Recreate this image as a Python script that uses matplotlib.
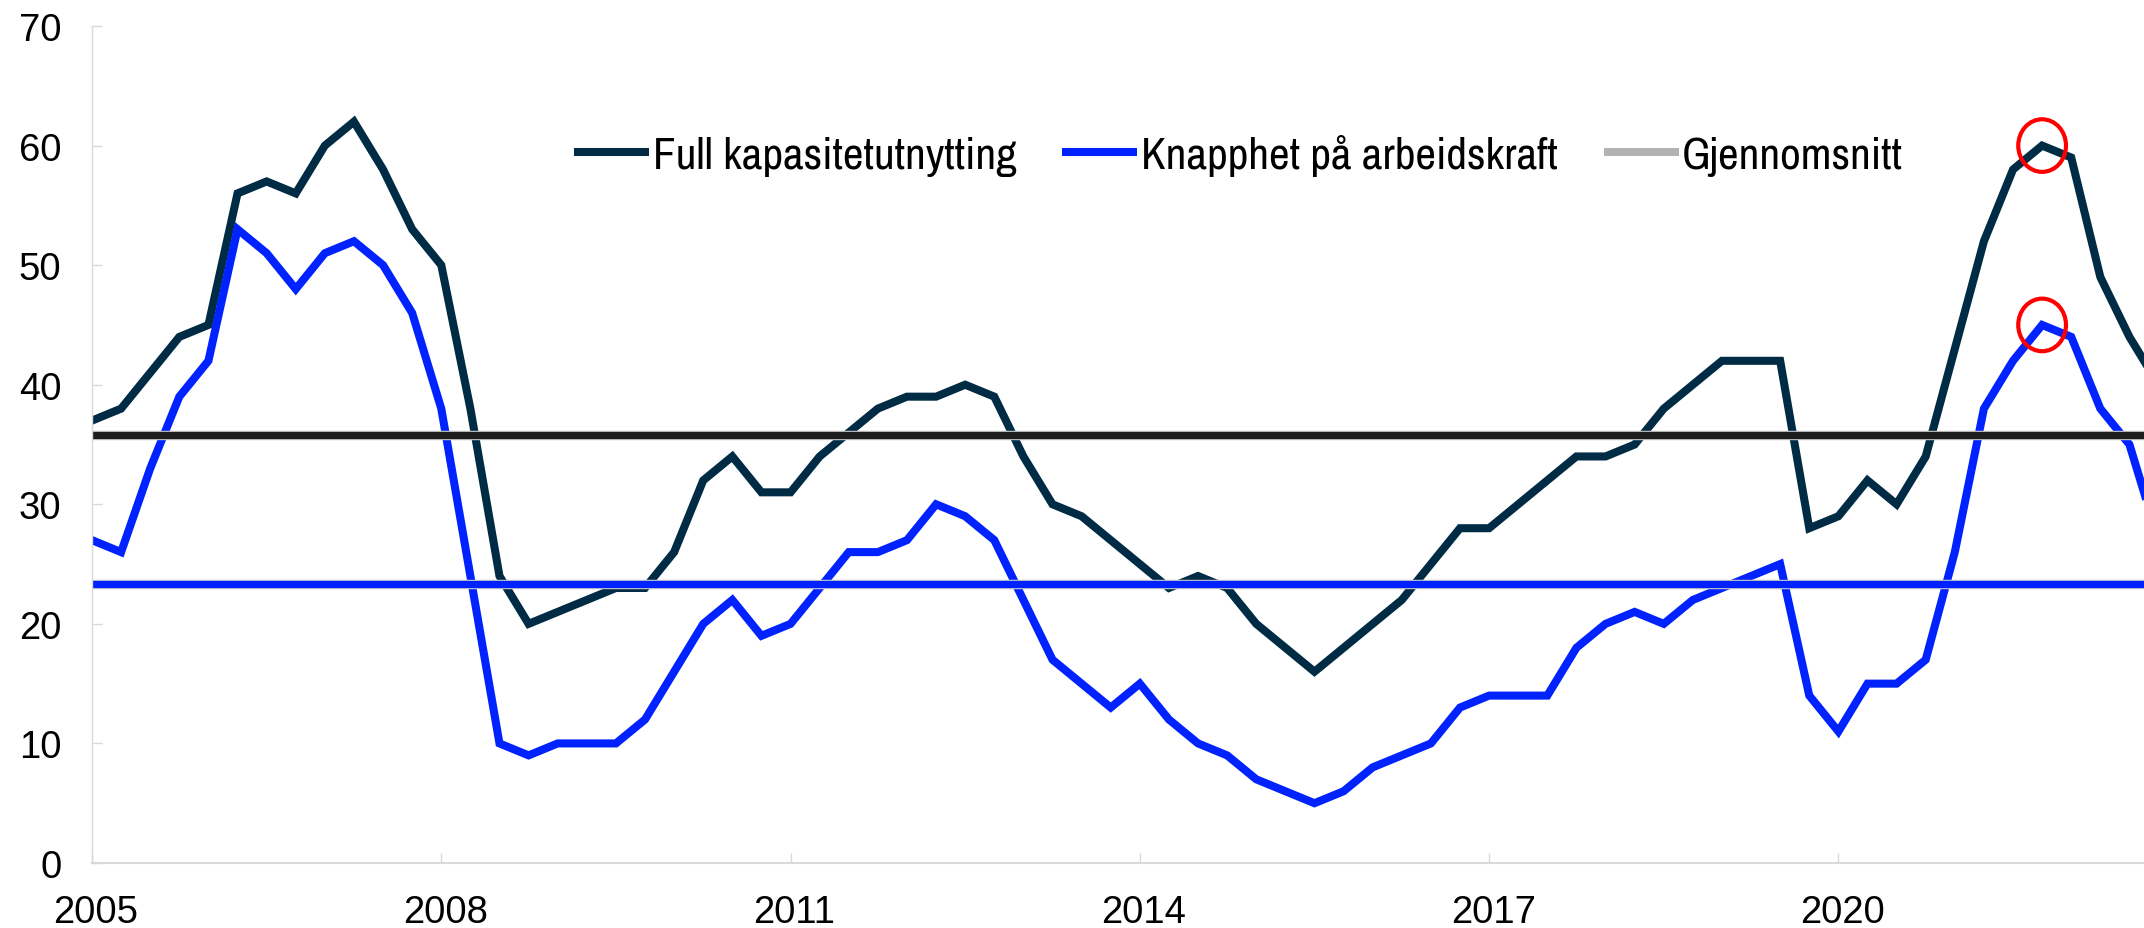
import numpy as np
import matplotlib
matplotlib.use("Agg")
import matplotlib.pyplot as plt
from matplotlib.lines import Line2D
from matplotlib.patches import Ellipse
from matplotlib.transforms import ScaledTranslation

# kvartalsdata fra 2005K1
start_year = 2005
full_kapasitet = [37, 38, 41, 44,  45, 56, 57, 56,  60, 62, 58, 53,  50, 38, 24, 20,
                  21, 22, 23, 23,  26, 32, 34, 31,  31, 34, 36, 38,  39, 39, 40, 39,
                  34, 30, 29, 27,  25, 23, 24, 23,  20, 18, 16, 18,  20, 22, 25, 28,
                  28, 30, 32, 34,  34, 35, 38, 40,  42, 42, 42, 28,  29, 32, 30, 34,
                  43, 52, 58, 60,  59, 49, 44, 40]
knapphet = [27, 26, 33, 39,  42, 53, 51, 48,  51, 52, 50, 46,  38, 24, 10, 9,
            10, 10, 10, 12,  16, 20, 22, 19,  20, 23, 26, 26,  27, 30, 29, 27,
            22, 17, 15, 13,  15, 12, 10, 9,  7, 6, 5, 6,  8, 9, 10, 13,
            14, 14, 14, 18,  20, 21, 20, 22,  23, 24, 25, 14,  11, 15, 15, 17,
            26, 38, 42, 45,  44, 38, 35, 27]
snitt_full = 35.8
snitt_knapphet = 23.3
year_ticks = [2005, 2008, 2011, 2014, 2017, 2020]
labels = ["Full kapasitetutnytting", "Knapphet på arbeidskraft", "Gjennomsnitt"]

navy = "#002b45"
blue = "#0022ff"
grey = "#b3b3b3"
axis_grey = "#d9d9d9"

plt.rcParams["font.family"] = ["Liberation Sans", "DejaVu Sans"]

W, H = 2144, 929
x = start_year + np.arange(len(full_kapasitet)) / 4

fig = plt.figure(figsize=(W / 100, H / 100), dpi=100)
ax = fig.add_axes([92 / W, 1 - 864 / H, 1 - 92 / W, (864 - 27) / H])

ax.plot(x, full_kapasitet, color=navy, lw=5.8, solid_joinstyle="miter")
ax.plot(x, knapphet, color=blue, lw=5.8, solid_joinstyle="miter")

# gjennomsnittslinjer
for val, col in [(snitt_full, "#1e1e1e"), (snitt_knapphet, blue)]:
    ax.axhline(val, color="#c8c8c8", lw=6.8)
    ax.axhline(val, color=col, lw=5.2)

# røde ringer rundt siste topp
recent = 8
for series in [full_kapasitet, knapphet]:
    i = len(series) - recent + int(np.argmax(series[-recent:]))
    ax.add_patch(Ellipse((x[i], series[i]), width=0.41, height=4.4,
                         fill=False, edgecolor="#ff0000", lw=3, zorder=5))

ax.set_xlim(2005, 2005 + 70.5 / 4)
ax.set_ylim(0, 70)
ax.set_xticks(year_ticks)
ax.set_xticklabels([str(y) for y in year_ticks])
ax.set_yticks(range(0, 71, 10))

for s in ["top", "right"]:
    ax.spines[s].set_visible(False)
ax.spines["left"].set_color(axis_grey)
ax.spines["left"].set_linewidth(1)
ax.spines["bottom"].set_color(axis_grey)
ax.spines["bottom"].set_linewidth(1.5)
ax.tick_params(axis="both", direction="in", length=7.5, width=1, color=axis_grey,
               labelsize=27.5, pad=22)
shift = ScaledTranslation(4 / 100, 0, fig.dpi_scale_trans)
for lab in ax.get_xticklabels():
    lab.set_transform(lab.get_transform() + shift)

handles = [Line2D([], [], color=c, lw=5.8, solid_capstyle="butt") for c in [navy, blue, grey]]
fig.legend(handles, labels, loc="center left", bbox_to_anchor=(574 / W, 1 - 156 / H),
           ncol=3, frameon=False, handlelength=1.66, handletextpad=0.08,
           columnspacing=1.02, borderpad=0, borderaxespad=0,
           prop={"family": ["Archivo Narrow", "Liberation Sans"], "size": 32.5})

fig.savefig("out.png", dpi=100)
